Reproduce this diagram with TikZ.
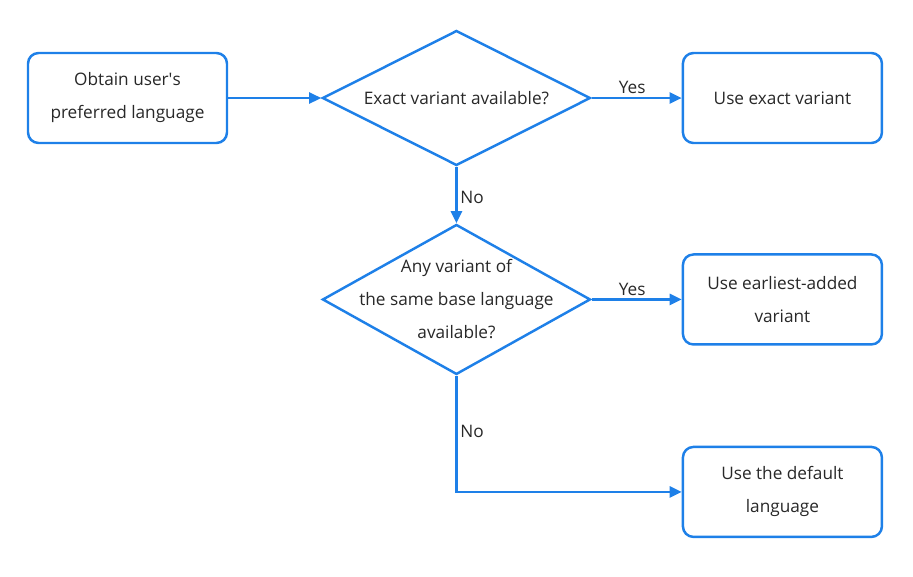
\documentclass[tikz,border=0pt]{standalone}
\usepackage{fontspec}
\setmainfont{Open Sans}
\usepackage{tikz}
\usetikzlibrary{arrows.meta,positioning,shapes.geometric}
\definecolor{flowblue}{RGB}{30,128,232}
\definecolor{ink}{RGB}{40,40,40}
\tikzset{
  stepbox/.style={draw=flowblue, line width=1.4pt, rounded corners=6pt, fill=white, align=center,
    minimum width=3.98cm, minimum height=1.8cm, inner sep=2pt, text=ink,
    font=\fontsize{9.8}{18.8}\selectfont},
  decision/.style={draw=flowblue, line width=1.4pt, diamond, fill=white, inner sep=0pt,
    minimum width=5.36cm},
  qtext/.style={align=center, text=ink, font=\fontsize{9.8}{18.8}\selectfont},
  flow/.style={draw=flowblue, line width=1.4pt, -{Triangle[length=2.4mm, width=2.2mm]}},
  lbl/.style={text=ink, font=\fontsize{9.8}{12}\selectfont, inner sep=1.5pt}
}
\begin{document}
\begin{tikzpicture}[node distance=1.13cm and 1.86cm]
  \useasboundingbox (0,0) rectangle (18.26,-11.54);

  \node[stepbox] (obtain) at (2.55,-1.96) {Obtain user\textquotesingle s\\preferred language};
  \node[decision, minimum height=2.7cm, right=of obtain] (exactq) {};
  \node[qtext] at (exactq) {Exact variant available?};
  \node[stepbox, right=1.8cm of exactq] (exact) {Use exact variant};

  \node[decision, minimum height=3.0cm, below=of exactq] (baseq) {};
  \node[qtext] at (baseq) {Any variant of\\the same base language\\available?};
  \node[stepbox, right=1.8cm of baseq] (earliest) {Use earliest-added\\variant};
  \node[stepbox, below=2.0cm of earliest] (default) {Use the default\\language};

  \draw[flow] (obtain) -- (exactq);
  \draw[flow] (exactq) -- node[lbl, above, pos=0.45] (yes1) {Yes} (exact);
  \draw[flow] (exactq) -- node[lbl, right, pos=0.55] (no1) {No} (baseq);
  \draw[flow] (baseq) -- node[lbl, above, pos=0.45] (yes2) {Yes} (earliest);
  \draw[flow] (baseq.south) |- node[lbl, right, pos=0.24] (no2) {No} (default.west);
\end{tikzpicture}
\end{document}
